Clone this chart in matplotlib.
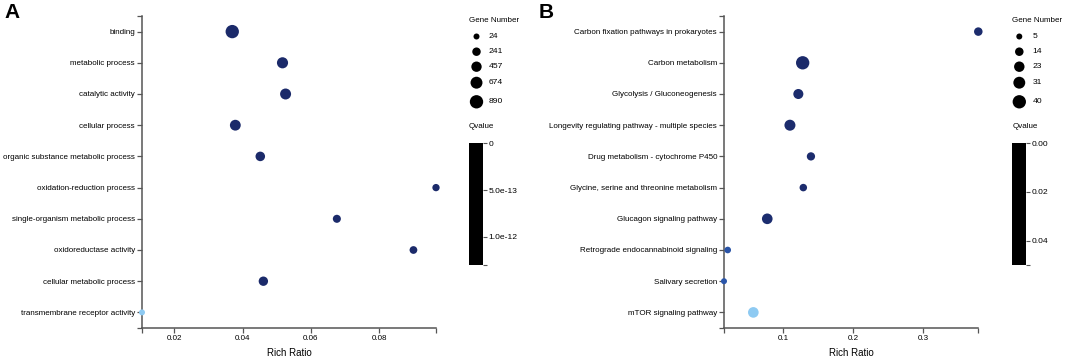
import numpy as np
import matplotlib.pyplot as plt
from matplotlib.colors import LinearSegmentedColormap, ListedColormap, Normalize
from matplotlib.colorbar import ColorbarBase

plt.rcParams['font.family'] = ['Liberation Sans', 'DejaVu Sans']

# panel A - GO terms
terms_a = ["binding", "metabolic process", "catalytic activity", "cellular process",
           "organic substance metabolic process", "oxidation-reduction process",
           "single-organism metabolic process", "oxidoreductase activity",
           "cellular metabolic process", "transmembrane receptor activity"]
ratio_a = [0.0370, 0.0517, 0.0526, 0.0379, 0.0452, 0.0966, 0.0676, 0.0900, 0.0461, 0.0106]
genes_a = [890, 560, 540, 520, 360, 130, 200, 170, 340, 24]
qval_a = [0, 0, 0, 0, 0, 0, 0, 0, 0, 1.3e-12]
legend_genes_a = [24, 241, 457, 674, 890]
xticks_a = [0.02, 0.04, 0.06, 0.08]
cbar_ticks_a = [0, 5e-13, 1e-12]
cbar_labels_a = ["0", "5.0e-13", "1.0e-12"]
qmax_a = 1.3e-12

# panel B - KEGG pathways
terms_b = ["Carbon fixation pathways in prokaryotes", "Carbon metabolism",
           "Glycolysis / Gluconeogenesis", "Longevity regulating pathway - multiple species",
           "Drug metabolism - cytochrome P450", "Glycine, serine and threonine metabolism",
           "Glucagon signaling pathway", "Retrograde endocannabinoid signaling",
           "Salivary secretion", "mTOR signaling pathway"]
ratio_b = [0.3786, 0.1277, 0.1215, 0.1095, 0.1395, 0.1286, 0.0771, 0.0206, 0.0153, 0.0572]
genes_b = [14, 40, 21, 26, 13, 10, 24, 7, 5, 24]
qval_b = [0.001, 0.0, 0.001, 0.001, 0.001, 0.001, 0.002, 0.024, 0.025, 0.05]
legend_genes_b = [5, 14, 23, 31, 40]
xticks_b = [0.1, 0.2, 0.3]
cbar_ticks_b = [0, 0.02, 0.04]
cbar_labels_b = ["0.00", "0.02", "0.04"]
qmax_b = 0.05

W, H = 1065, 357
dot_cmap = LinearSegmentedColormap.from_list('q', ['#1b2a6a', '#2b56aa', '#8ecaf2'])
FS = 5.8


def size_scale(values, vmin, vmax):
    # area linear in gene number, diameter 6px -> 13.3px
    frac = (np.asarray(values, float) - vmin) / (vmax - vmin)
    return (36 + frac * 142) * 0.72 ** 2


def frac_box(x0, y0, x1, y1):
    return [x0 / W, 1 - y1 / H, (x1 - x0) / W, (y1 - y0) / H]


def draw_panel(fig, box, terms, ratio, genes, qval, legend_genes, xticks, qmax):
    ax = fig.add_axes(frac_box(*box))
    y = np.arange(len(terms))
    vmin, vmax = legend_genes[0], legend_genes[-1]
    ax.scatter(ratio, y, s=size_scale(genes, vmin, vmax), c=qval, cmap=dot_cmap,
               norm=Normalize(0, qmax), linewidths=0, clip_on=False, zorder=3)
    ax.set_ylim(len(terms) - 0.5, -0.5)
    ax.set_xlim(min(ratio), max(ratio))
    ax.set_yticks(y)
    ax.set_yticklabels(terms, fontsize=FS)
    ax.set_xticks(xticks)
    ax.set_xticklabels([("%g" % t) for t in xticks], fontsize=FS)
    ax.set_xticks([min(ratio), max(ratio)], minor=True)
    ax.set_yticks([-0.5, len(terms) - 0.5], minor=True)
    ax.set_xlabel("Rich Ratio", fontsize=7, labelpad=4)
    for s in ['top', 'right']:
        ax.spines[s].set_visible(False)
    for s in ['left', 'bottom']:
        ax.spines[s].set_color('#555555')
        ax.spines[s].set_linewidth(1.1)
    ax.tick_params(which='both', length=3.5, width=0.9, color='#555555', pad=1.5)
    return ax


def draw_legend(ov, x_title, x_dot, x_lab, legend_genes, cbox, ticks, labels, qmax):
    ov.text(x_title, 20, "Gene Number", fontsize=FS, va='center', ha='left')
    ys = [36.5, 51.7, 66.7, 82.7, 101.8]
    ov.scatter([x_dot] * len(legend_genes), ys,
               s=size_scale(legend_genes, legend_genes[0], legend_genes[-1]),
               color='black', linewidths=0)
    for yy, g in zip(ys, legend_genes):
        ov.text(x_lab, yy, str(g), fontsize=6.1, va='center', ha='left')
    ov.text(x_title, 126.7, "Qvalue", fontsize=FS, va='center', ha='left')

    cax = fig.add_axes(frac_box(*cbox))
    cb = ColorbarBase(cax, cmap=ListedColormap(['black']), norm=Normalize(0, qmax))
    cb.outline.set_visible(False)
    cax.invert_yaxis()
    cb.set_ticks(ticks)
    cb.set_ticklabels(labels)
    cax.set_yticks([qmax], minor=True)
    cax.tick_params(which='both', labelsize=6.1, length=3, width=0.8, color='#555555', pad=1)


fig = plt.figure(figsize=(W / 100, H / 100), dpi=100)

draw_panel(fig, (142, 16, 436, 328), terms_a, ratio_a, genes_a, qval_a,
           legend_genes_a, xticks_a, qmax_a)
draw_panel(fig, (724, 16, 978.3, 328), terms_b, ratio_b, genes_b, qval_b,
           legend_genes_b, xticks_b, qmax_b)

ov = fig.add_axes([0, 0, 1, 1], zorder=-1)
ov.set_xlim(0, W)
ov.set_ylim(H, 0)
ov.axis('off')

draw_legend(ov, 469, 476.5, 489, legend_genes_a, (469.3, 143.3, 483.3, 265),
            cbar_ticks_a, cbar_labels_a, qmax_a)
draw_legend(ov, 1012.5, 1019.3, 1032.7, legend_genes_b, (1012.3, 143.3, 1026, 265),
            cbar_ticks_b, cbar_labels_b, qmax_b)

ov.text(4, 13, "A", fontsize=15, fontweight='bold', va='center', ha='left')
ov.text(539, 13, "B", fontsize=15, fontweight='bold', va='center', ha='left')

fig.savefig("out.png", dpi=100)
